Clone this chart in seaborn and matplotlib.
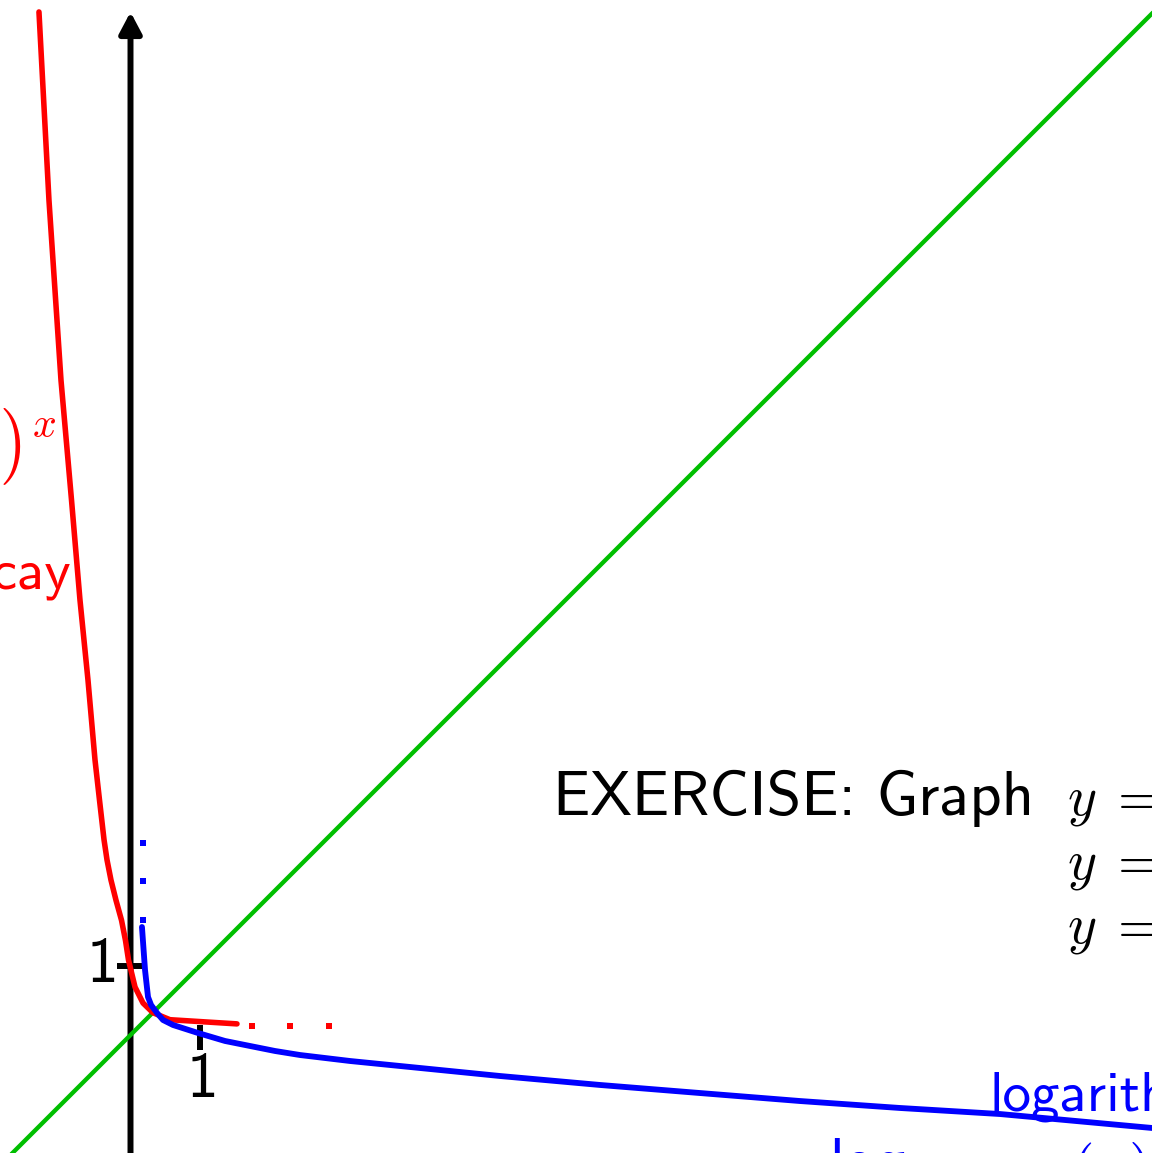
import matplotlib
matplotlib.use("Agg")
import matplotlib.pyplot as plt
import seaborn as sns

# ---- data (in data units) ----
red_x = [-1.317, -1.173, -1.000, -0.849, -0.727, -0.612, -0.511, -0.446,
         -0.381, -0.338, -0.281, -0.209, -0.129, -0.072, -0.029, 0.065,
         0.180, 0.324, 0.568, 1.532]
red_y = [14.72, 12.01, 9.42, 7.70, 6.26, 5.11, 3.96, 3.38,
         2.81, 2.52, 2.23, 1.94, 1.65, 1.36, 1.08, 0.69,
         0.46, 0.32, 0.22, 0.16]
red_dots_x = [1.748, 2.295, 2.856]
red_dots_y = [0.129, 0.129, 0.129]

blue_x = [0.165, 0.209, 0.252, 0.296, 0.381, 0.468, 0.612, 0.971,
          1.360, 1.719, 2.079, 2.439, 3.158, 3.878, 5.317, 6.755,
          8.194, 9.633, 11.07, 12.51, 14.70]
blue_y = [1.554, 0.935, 0.547, 0.432, 0.317, 0.216, 0.144, 0.029,
          -0.086, -0.158, -0.230, -0.288, -0.374, -0.446, -0.590, -0.719,
          -0.835, -0.950, -1.050, -1.137, -1.338]
blue_dots_x = [0.180, 0.180, 0.180]
blue_dots_y = [2.763, 2.216, 1.655]

green_x = [-1.80, 14.75]
green_y = [-1.80, 14.75]

tick_values = [1]
tick_labels = ["1"]

RED = "#ff0000"
BLUE = "#0000ff"
GREEN = "#00bf00"

sns.set_theme(style="white")
plt.rcParams["mathtext.fontset"] = "cm"
plt.rcParams["axes.unicode_minus"] = False
plt.rcParams["font.family"] = ["cmss10", "DejaVu Sans"]

fig = plt.figure(figsize=(11.52, 11.53), dpi=100)
ax = fig.add_axes([0, 0, 1, 1])
ax.set_xlim(-130.5 / 69.5, (1152 - 130.5) / 69.5)
ax.set_ylim((1035 - 1153) / 69.5, 1035 / 69.5)
ax.axis("off")

def px(x, y):
    return (x - 130.5) / 69.5, (1035 - y) / 69.5

# axes with arrows
axlw = 4.3
astyle = "-|>,head_length=0.85,head_width=0.45"
ax.annotate("", xy=px(1160, 1035), xytext=px(12, 1035),
            arrowprops=dict(arrowstyle=astyle, mutation_scale=15, lw=axlw,
                            color="black", shrinkA=0, shrinkB=0), zorder=1)
ax.annotate("", xy=px(130.5, 12), xytext=px(130.5, 1160),
            arrowprops=dict(arrowstyle=astyle, mutation_scale=15, lw=axlw,
                            color="black", shrinkA=0, shrinkB=0), zorder=1)

# tick marks and labels
for v, lab in zip(tick_values, tick_labels):
    ax.plot([v, v], [0.14, -0.22], color="black", lw=axlw, solid_capstyle="butt", zorder=1)
    ax.plot([-0.195, 0.21], [v, v], color="black", lw=axlw, solid_capstyle="butt", zorder=1)
    ax.text(v + 0.03, -0.66, lab, fontsize=46, ha="center", va="center", color="black")
    ax.text(-0.41, v, lab, fontsize=46, ha="center", va="center", color="black")

# curves
sns.lineplot(x=green_x, y=green_y, color=GREEN, lw=3.1, sort=False, estimator=None, ax=ax, zorder=2)
sns.lineplot(x=red_x, y=red_y, color=RED, lw=4.0, sort=False, estimator=None, ax=ax, zorder=3)
sns.lineplot(x=blue_x, y=blue_y, color=BLUE, lw=4.2, sort=False, estimator=None, ax=ax, zorder=4)
sns.scatterplot(x=red_dots_x, y=red_dots_y, color=RED, marker="s", s=22, linewidth=0, ax=ax, zorder=3)
sns.scatterplot(x=blue_dots_x, y=blue_dots_y, color=BLUE, marker="s", s=24, linewidth=0, ax=ax, zorder=4)

# texts
ax.text(*px(553, 815), "EXERCISE: Graph", fontsize=45, ha="left", va="baseline", color="black")
for yb in (815, 878, 943):
    ax.text(*px(1067, yb), r"$y\;=$", fontsize=40, ha="left", va="baseline", color="black")

ax.text(*px(56, 446), r"$y=\left(\frac{1}{2}\right)^x$", fontsize=43, ha="right", va="center", color=RED)
ax.text(*px(71, 588), "exponential decay", fontsize=41, ha="right", va="baseline", color=RED)

ax.text(*px(990, 1110), "logarithmic", fontsize=41, ha="left", va="baseline", color=BLUE)
ax.text(*px(829, 1181), r"$\mathsf{log}_{1/2}$", fontsize=44, ha="left", va="baseline", color=BLUE)
ax.text(*px(1070, 1189), r"$(x)$", fontsize=44, ha="left", va="baseline", color=BLUE)

fig.savefig("out.png", dpi=100)
